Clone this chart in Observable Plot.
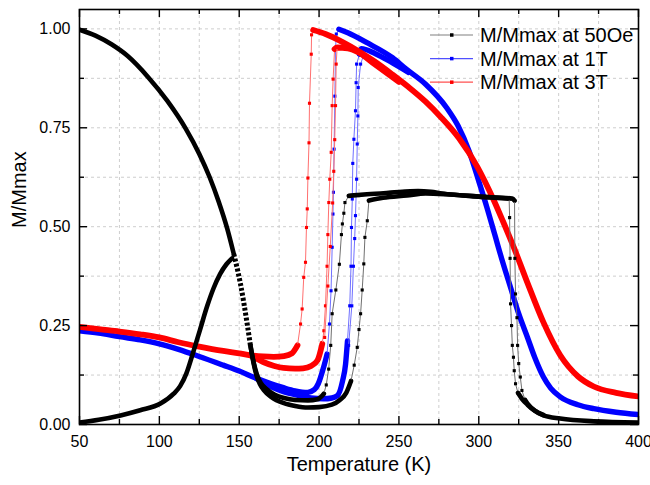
<!DOCTYPE html>
<html><head><meta charset="utf-8">
<script src="https://cdn.jsdelivr.net/npm/d3@7"></script>
<script src="https://cdn.jsdelivr.net/npm/@observablehq/plot@0.6"></script>
<style>
body{margin:0;background:#fff;}
#wrap{position:relative;width:650px;height:485px;font-family:"Liberation Sans",Arial,sans-serif;}
#legend{position:absolute;left:0;top:0;pointer-events:none;}
</style></head><body><div id="wrap"></div>
<script>
// ---- tick values ----
const xMajorTicks = [50,100,150,200,250,300,350,400];
const xMinorTicks = [75,125,175,225,275,325,375];
const yMajorTicks = [0,0.25,0.5,0.75,1.0];
const yMinorTicks = [0.125,0.375,0.625,0.875];
const xTitle = "Temperature (K)";
const yTitle = "M/Mmax";
const legendLabels = ["M/Mmax at 50Oe","M/Mmax at 1T","M/Mmax at 3T"];

// ---- series data: runs of [tag, [[T, M/Mmax], ...]]  b = dense band, j = sparse points, d = dotted band ----
const black50A = [
 ["b", [[50,0.998],[60,0.983],[70,0.961],[80,0.932],[93,0.878],[105,0.818],[116.5,0.748],[125,0.684],[131.5,0.625],[137,0.565],[142.5,0.495],[146.6,0.431]]],
 ["d", [[150.8,0.355],[155,0.254],[157,0.2]]],
 ["b", [[159,0.155],[161,0.122],[163,0.102],[165.4,0.087],[170,0.07],[178,0.054],[185,0.047],[193,0.043],[200,0.044],[208,0.05],[213,0.062],[217,0.08],[220,0.11]]],
 ["j", [[222,0.15],[223.9,0.195],[225,0.24],[226,0.28],[227,0.34],[228,0.406],[228.7,0.473],[230.2,0.515],[231.2,0.566]]],
 ["b", [[240,0.573],[255,0.579],[266.7,0.584],[280,0.582],[300,0.576],[321,0.571],[322.4,0.566]]],
 ["j", [[322.6,0.42],[323,0.33],[323.9,0.27],[324.3,0.2],[325,0.154],[326,0.12],[327,0.086],[329,0.062]]],
 ["b", [[330.5,0.053],[335,0.035],[340.5,0.023],[351,0.015],[372,0.008],[400,0.005]]]
];
const black50B1 = [
 ["b", [[50,0.005],[62,0.012],[75.7,0.023],[88,0.036],[100.7,0.053],[109,0.078],[113,0.097],[117,0.13],[121,0.18],[125.5,0.24],[130,0.3],[134,0.345],[138,0.38],[142,0.405],[145.5,0.42]]]
];
const black50B2 = [
 ["b", [[157,0.2],[159,0.158],[161,0.127],[163.5,0.105],[167,0.09],[172,0.076],[178,0.067],[185,0.062],[193,0.061],[199,0.064],[203,0.078]]],
 ["j", [[204.5,0.1],[206,0.14],[207.3,0.2],[208.2,0.28],[210.5,0.34],[212.7,0.405],[214,0.48],[214.6,0.507],[215.5,0.534],[216.2,0.561],[218.6,0.578]]],
 ["b", [[230,0.582],[245,0.586],[262,0.59],[270,0.588],[277,0.584],[300,0.576],[319,0.571]]],
 ["j", [[319.3,0.523],[319.6,0.42],[319.9,0.305],[320.5,0.25],[321,0.2],[321.7,0.17],[322.2,0.136],[323,0.103],[324.5,0.08]]],
 ["b", [[327,0.065],[330.5,0.05],[335,0.035],[340.5,0.024]]]
];
const blue1TCool = [
 ["b", [[50,0.237],[62,0.231],[75,0.222],[88,0.214],[100,0.204],[112,0.19],[125,0.172],[140,0.15],[150,0.135],[160,0.118],[170,0.103],[177.7,0.093],[185,0.085],[192.8,0.081],[197,0.088],[199.5,0.103],[202.8,0.144],[205,0.178]]],
 ["j", [[206.5,0.254],[207.5,0.338],[208.2,0.448],[208.7,0.532],[209,0.587],[209.4,0.696],[209.9,0.83],[210.3,0.949],[210.8,0.987],[212.4,0.999]]],
 ["b", [[218,0.99],[230,0.965],[246,0.927],[254,0.9],[266.7,0.86],[280,0.8],[287,0.755],[294,0.69],[300,0.615],[305,0.55],[310,0.48],[315,0.41],[320,0.345],[325,0.28],[330.5,0.22],[335,0.17],[340.5,0.12],[345,0.092],[351,0.07],[362,0.05],[372,0.04],[386,0.031],[400,0.025]]]
];
const blue1TWarm = [
 ["b", [[160,0.118],[170,0.095],[177.7,0.083],[188,0.073],[195,0.067],[202.8,0.065],[208,0.067],[211.5,0.073],[214.7,0.11],[216.6,0.153],[217.8,0.212]]],
 ["j", [[219.2,0.3],[220,0.4],[220.3,0.498],[220.8,0.57],[221.1,0.66],[221.8,0.721],[222.8,0.793],[223.2,0.864],[223.5,0.911],[225.3,0.936]]],
 ["b", [[226.5,0.95],[235,0.938],[246,0.914],[256,0.89]]]
];
const blue1TWarm2 = [
 ["j", [[218.5,0.2],[220.5,0.3],[221.5,0.4],[222.3,0.47],[222.8,0.528],[223.5,0.62],[223.9,0.709],[224.3,0.78],[224.5,0.852],[226,0.911],[228,0.935]]]
];
const red3TCool = [
 ["b", [[50,0.247],[62,0.241],[75,0.235],[88,0.228],[100,0.22],[112,0.208],[125,0.197],[140,0.186],[150,0.18],[157,0.175],[165,0.172],[171.6,0.171],[178,0.173],[183,0.18],[186.5,0.2]]],
 ["j", [[188.4,0.254],[189.4,0.292],[190.4,0.372],[191.5,0.41],[192.1,0.498],[192.6,0.545],[193,0.623],[193.7,0.712],[194,0.812],[195.1,0.936],[195.3,0.985],[196.3,0.997]]],
 ["b", [[204,0.987],[215,0.966],[225,0.943],[235,0.917],[245.8,0.885],[256,0.853],[266.7,0.816],[276,0.778],[287.5,0.724],[299,0.652],[309.4,0.567],[315,0.515],[322,0.447],[330.3,0.36],[340.5,0.258],[351,0.175],[362,0.122],[372,0.096],[386,0.08],[400,0.071]]]
];
const red3TWarm = [
 ["b", [[157,0.175],[165,0.158],[172,0.148],[177.7,0.143],[185,0.141],[190,0.142],[195,0.148],[199,0.162],[202,0.204]]],
 ["j", [[203,0.237],[204,0.3],[205,0.4],[205.5,0.48],[206.1,0.561],[206.7,0.62],[207.6,0.688],[208.2,0.806],[208.8,0.873],[209.7,0.949]]],
 ["b", [[211.3,0.953],[218,0.951],[225,0.94],[235,0.91],[250,0.866]]]
];
const red3TWarm2 = [
 ["j", [[203.5,0.22],[205.5,0.35],[207,0.45],[208.5,0.56],[209.2,0.64],[209.8,0.72],[210.3,0.806],[210.7,0.911],[211.3,0.953]]]
];

// ---- layout ----
const W=650, H=485, mL=79, mR=12, mT=9, mB=61;
const plotW=W-mL-mR, plotH=H-mT-mB;
const FONT='"Liberation Sans", Arial, Helvetica, sans-serif';

const styles = [
  {branches:[blue1TCool, blue1TWarm, blue1TWarm2], color:"#0000ff", thin:"#7070ff", band:5.4},
  {branches:[red3TCool, red3TWarm, red3TWarm2], color:"#ff0000", thin:"#ff7070", band:5.8},
  {branches:[black50A, black50B1, black50B2], color:"#000000", thin:"#707070", band:4.6}
];
const legendColors = [["#000000","#808080"],["#0000ff","#5050ff"],["#ff0000","#ff5050"]];

function seriesMarks(s){
  const marks=[];
  for (const br of s.branches){
    let prev=null;
    for (const [tag, pts] of br){
      const seg = prev ? [prev, ...pts] : pts;
      prev = pts[pts.length-1];
      const base = {x:d=>d[0], y:d=>d[1], clip:true};
      if (tag==="b"){
        marks.push(Plot.line(seg,{...base, stroke:s.color, strokeWidth:s.band, curve:"monotone-x", strokeLinecap:"round", strokeLinejoin:"round"}));
      } else if (tag==="d"){
        marks.push(Plot.line(seg,{...base, stroke:s.color, strokeWidth:5, curve:"monotone-x", strokeDasharray:"3,2", strokeLinecap:"butt"}));
      } else {
        marks.push(Plot.line(seg,{...base, stroke:s.thin, strokeWidth:1, curve:"linear"}));
        marks.push(Plot.dot(seg,{...base, symbol:"square", r:1.75, fill:s.color, stroke:null}));
      }
    }
  }
  return marks;
}

const gridStyle = {stroke:"#c8c8c8", strokeWidth:0.9, strokeDasharray:"3,3"};
const tickStyle = {stroke:"#000", strokeWidth:1.4};
const majL=8, minL=5;

const chart = Plot.plot({
  width:W, height:H,
  marginLeft:mL, marginRight:mR, marginTop:mT, marginBottom:mB,
  x:{domain:[50,400]},
  y:{domain:[0,1.049]},
  style:{fontFamily:FONT, fontSize:"16px", color:"#000", background:"#fff"},
  marks:[
    Plot.ruleX([...xMajorTicks.slice(1,-1), ...xMinorTicks], {x:d=>d, ...gridStyle}),
    Plot.ruleY([...yMajorTicks.slice(1), ...yMinorTicks], {y:d=>d, ...gridStyle}),
    ...styles.flatMap(seriesMarks),
    // inward ticks on all four sides
    Plot.tickX(xMajorTicks, {x:d=>d, insetTop:plotH-majL, ...tickStyle}),
    Plot.tickX(xMinorTicks, {x:d=>d, insetTop:plotH-minL, ...tickStyle}),
    Plot.tickX(xMajorTicks, {x:d=>d, insetBottom:plotH-majL, ...tickStyle}),
    Plot.tickX(xMinorTicks, {x:d=>d, insetBottom:plotH-minL, ...tickStyle}),
    Plot.tickY(yMajorTicks, {y:d=>d, insetRight:plotW-majL, ...tickStyle}),
    Plot.tickY(yMinorTicks, {y:d=>d, insetRight:plotW-minL, ...tickStyle}),
    Plot.tickY(yMajorTicks, {y:d=>d, insetLeft:plotW-majL, ...tickStyle}),
    Plot.tickY(yMinorTicks, {y:d=>d, insetLeft:plotW-minL, ...tickStyle}),
    Plot.frame({stroke:"#000", strokeWidth:1.6}),
    Plot.axisX({ticks:xMajorTicks, tickSize:0, tickPadding:11, tickFormat:d=>String(d), label:null}),
    Plot.axisY({ticks:yMajorTicks, tickSize:0, tickPadding:9, tickFormat:d3.format(".2f"), label:null}),
    Plot.text([xTitle], {text:d=>d, frameAnchor:"bottom", dy:46, fontSize:20}),
    Plot.text([yTitle], {text:d=>d, frameAnchor:"left", dx:-60, dy:11, rotate:-90, fontSize:20})
  ]
});

const wrap = document.getElementById("wrap");
wrap.appendChild(chart);

// ---- legend (inside plot area, top right) ----
const leg = d3.select(wrap).append("svg").attr("id","legend").attr("width",W).attr("height",H)
  .style("font-family",FONT);
legendLabels.forEach((lab,i)=>{
  const cy = 35 + i*23.6;
  const g = leg.append("g");
  g.append("line").attr("x1",430).attr("x2",473).attr("y1",cy).attr("y2",cy)
    .attr("stroke",legendColors[i][1]).attr("stroke-width",1.2);
  g.append("rect").attr("x",450).attr("y",cy-1.75).attr("width",3.5).attr("height",3.5).attr("fill",legendColors[i][0]);
  g.append("text").attr("x",480).attr("y",cy).attr("dy","0.36em").attr("font-size",20).attr("fill","#000").text(lab);
});
</script></body></html>
